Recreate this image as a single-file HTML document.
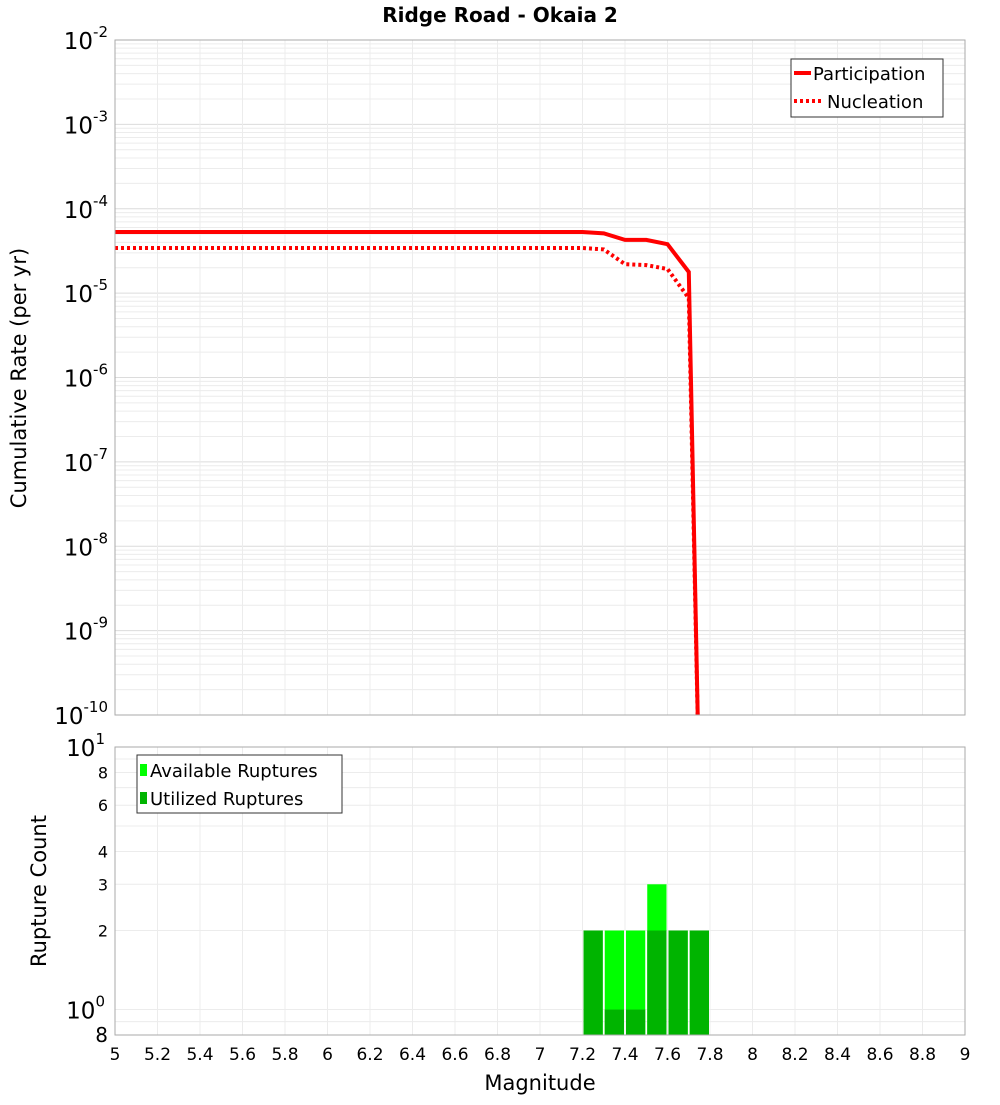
<!DOCTYPE html>
<html><head><meta charset="utf-8"><style>
body{margin:0;background:#fff;font-family:"Liberation Sans","DejaVu Sans",sans-serif}
</style></head><body>
<svg id="c" width="1000" height="1100" xmlns="http://www.w3.org/2000/svg" font-family="DejaVu Sans, Liberation Sans, sans-serif">
<text x="500" y="22" text-anchor="middle" font-size="20" font-weight="bold">Ridge Road - Okaia 2</text>
<g id="topG"></g>
<g id="botG"></g>
<text x="540" y="1090" text-anchor="middle" font-size="21">Magnitude</text>
<text transform="translate(26,378) rotate(-90)" text-anchor="middle" font-size="21">Cumulative Rate (per yr)</text>
<text transform="translate(46,891) rotate(-90)" text-anchor="middle" font-size="21">Rupture Count</text>
</svg>
<script>
const mags=[5.0,5.1,5.2,5.3,5.4,5.5,5.6,5.7,5.8,5.9,6.0,6.1,6.2,6.3,6.4,6.5,6.6,6.7,6.8,6.9,7.0,7.1,7.2,7.3,7.4,7.5,7.6,7.7,7.75];
const participation=[5.3e-5,5.3e-5,5.3e-5,5.3e-5,5.3e-5,5.3e-5,5.3e-5,5.3e-5,5.3e-5,5.3e-5,5.3e-5,5.3e-5,5.3e-5,5.3e-5,5.3e-5,5.3e-5,5.3e-5,5.3e-5,5.3e-5,5.3e-5,5.3e-5,5.3e-5,5.3e-5,5.1e-5,4.27e-5,4.27e-5,3.8e-5,1.78e-5,1e-11];
const nucleation=[3.43e-5,3.43e-5,3.43e-5,3.43e-5,3.43e-5,3.43e-5,3.43e-5,3.43e-5,3.43e-5,3.43e-5,3.43e-5,3.43e-5,3.43e-5,3.43e-5,3.43e-5,3.43e-5,3.43e-5,3.43e-5,3.43e-5,3.43e-5,3.43e-5,3.43e-5,3.43e-5,3.3e-5,2.2e-5,2.15e-5,1.93e-5,8.7e-6,1e-11];
const binMags=[7.25,7.35,7.45,7.55,7.65,7.75];
const available=[2,2,2,3,2,2];
const utilized=[2,1,1,2,2,2];
const xTicks=[5,5.2,5.4,5.6,5.8,6,6.2,6.4,6.6,6.8,7,7.2,7.4,7.6,7.8,8,8.2,8.4,8.6,8.8,9];
const topExps=[-2,-3,-4,-5,-6,-7,-8,-9,-10];
const botTicks=[8,6,4,3,2];

const NS="http://www.w3.org/2000/svg";
const L=115,R=965,T1=40,B1=715,T2=747,B2=1035;
const x=m=>L+(m-5)/4*(R-L);
const y1=v=>T1+(-2-Math.log10(v))/8*(B1-T1);
const y2=v=>T2+(1-Math.log10(v))/(1-Math.log10(0.8))*(B2-T2);
function el(p,t,a){const e=document.createElementNS(NS,t);for(const k in a)e.setAttribute(k,a[k]);p.appendChild(e);return e;}
const topG=document.getElementById('topG'),botG=document.getElementById('botG');
const svgRoot=document.getElementById('c');
el(topG,'rect',{x:L,y:T1,width:R-L,height:B1-T1,fill:'#fff'});
el(botG,'rect',{x:L,y:T2,width:R-L,height:B2-T2,fill:'#fff'});
for(let e=-10;e<-2;e++)for(let k=1;k<10;k++){const yy=y1(k*Math.pow(10,e));el(topG,'line',{x1:L,x2:R,y1:yy,y2:yy,stroke:k==1?'#dcdcdc':'#ececec','stroke-width':1});}
[0.8,0.9,1,2,3,4,5,6,7,8,9].forEach(v=>{const yy=y2(v);el(botG,'line',{x1:L,x2:R,y1:yy,y2:yy,stroke:'#ececec'});});
xTicks.forEach(m=>{el(topG,'line',{x1:x(m),x2:x(m),y1:T1,y2:B1,stroke:'#ececec'});el(botG,'line',{x1:x(m),x2:x(m),y1:T2,y2:B2,stroke:'#ececec'});
 const t=el(svgRoot,'text',{x:x(m),y:1060,'text-anchor':'middle','font-size':17});t.textContent=String(m);
 
 });
topExps.forEach(e=>{const t=el(topG,'text',{x:108,y:y1(Math.pow(10,e))+9,'text-anchor':'end','font-size':23});
 
 
 t.innerHTML='10<tspan dy="-12" font-size="15">'+e+'</tspan>';});
[[10,1],[1,0]].forEach(([v,e])=>{const t=el(botG,'text',{x:105,y:y2(v)+9,'text-anchor':'end','font-size':23});t.innerHTML='10<tspan dy="-12" font-size="15">'+e+'</tspan>';
 
 });
botTicks.forEach(v=>{const t=el(botG,'text',{x:108,y:y2(v)+6,'text-anchor':'end','font-size':16});t.textContent=v;
 
 });
const t8=el(botG,'text',{x:108,y:B2+7,'text-anchor':'end','font-size':20});t8.textContent='8';
const cp=el(topG,'clipPath',{id:'cp'});
el(cp,'rect',{x:L,y:T1,width:R-L,height:B1-T1});
const pth=arr=>mags.map((m,i)=>(i?'L':'M')+x(m).toFixed(1)+','+y1(arr[i]).toFixed(1)).join('');
const n=el(topG,'path',{d:pth(nucleation),fill:'none',stroke:'#f00','stroke-width':4,'stroke-dasharray':'3,3','clip-path':'url(#cp)'});


const p=el(topG,'path',{d:pth(participation),fill:'none',stroke:'#f00','stroke-width':4,'clip-path':'url(#cp)'});


const bw=(x(5.1)-x(5));
binMags.forEach((m,i)=>{
 const a=el(botG,'rect',{x:x(m)-bw/2+1,y:y2(available[i]),width:bw-2,height:B2-y2(available[i]),fill:'#00ff00'});
 
 
 const u=el(botG,'rect',{x:x(m)-bw/2+1,y:y2(utilized[i]),width:bw-2,height:B2-y2(utilized[i]),fill:'#00b400'});
 
 });
el(topG,'rect',{x:L,y:T1,width:R-L,height:B1-T1,fill:'none',stroke:'#aaa'});
el(botG,'rect',{x:L,y:T2,width:R-L,height:B2-T2,fill:'none',stroke:'#aaa'});
const lg=el(topG,'g',{});


el(lg,'rect',{x:791,y:59,width:152,height:58,fill:'#fff',stroke:'#333'});
el(lg,'line',{x1:794,x2:811,y1:73,y2:73,stroke:'#f00','stroke-width':4});
el(lg,'line',{x1:794,x2:822,y1:101,y2:101,stroke:'#f00','stroke-width':4,'stroke-dasharray':'3,3'});
let tx=el(lg,'text',{x:813,y:80,'font-size':18});tx.textContent='Participation';
tx=el(lg,'text',{x:827,y:108,'font-size':18});tx.textContent='Nucleation';
const lg2=el(botG,'g',{});


el(lg2,'rect',{x:137,y:755,width:205,height:58,fill:'#fff',stroke:'#333'});
el(lg2,'rect',{x:140,y:764,width:7,height:12,fill:'#00ff00'});
el(lg2,'rect',{x:140,y:792,width:7,height:12,fill:'#00b400'});
tx=el(lg2,'text',{x:150,y:777,'font-size':18});tx.textContent='Available Ruptures';
tx=el(lg2,'text',{x:150,y:805,'font-size':18});tx.textContent='Utilized Ruptures';
</script>
</body></html>
